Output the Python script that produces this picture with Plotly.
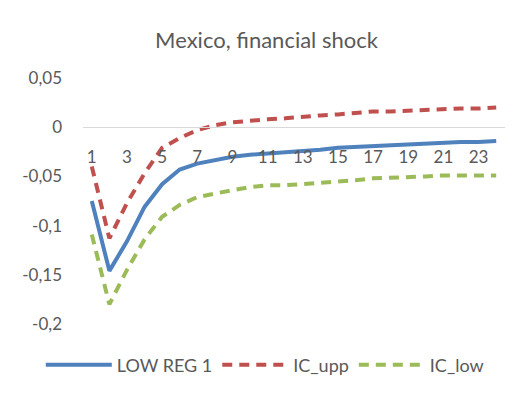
import plotly.graph_objects as go

BLUE = "#4F81BD"
RED = "#C0504D"
GREEN = "#9BBB59"
TXT = "#595959"
GRID = "#D9D9D9"

periods = list(range(1, 25))
low_reg1 = [-0.075, -0.146, -0.116, -0.081, -0.058, -0.043, -0.037, -0.033,
            -0.030, -0.028, -0.027, -0.026, -0.025, -0.023, -0.021, -0.020,
            -0.019, -0.018, -0.017, -0.016, -0.015, -0.015, -0.015, -0.014]
ic_upp = [-0.040, -0.113, -0.077, -0.047, -0.021, -0.011, -0.003, 0.002,
          0.005, 0.007, 0.008, 0.009, 0.011, 0.012, 0.013, 0.015,
          0.016, 0.016, 0.017, 0.018, 0.018, 0.019, 0.019, 0.020]
ic_low = [-0.109, -0.180, -0.145, -0.114, -0.091, -0.079, -0.071, -0.067,
          -0.064, -0.061, -0.059, -0.059, -0.058, -0.057, -0.056, -0.054,
          -0.052, -0.051, -0.051, -0.050, -0.049, -0.049, -0.049, -0.049]

x_ticks = list(range(1, 25, 2))
y_ticks = [0.05, 0, -0.05, -0.1, -0.15, -0.2]
y_labels = ["0,05", "0", "-0,05", "-0,1", "-0,15", "-0,2"]

fig = go.Figure()
fig.add_trace(go.Scatter(x=periods, y=low_reg1, name="LOW REG 1", mode="lines",
                         line=dict(color=BLUE, width=4)))
fig.add_trace(go.Scatter(x=periods, y=ic_upp, name="IC_upp", mode="lines",
                         line=dict(color=RED, width=4, dash="10px,7px")))
fig.add_trace(go.Scatter(x=periods, y=ic_low, name="IC_low", mode="lines",
                         line=dict(color=GREEN, width=4, dash="10px,7px")))

# page adds 8px body margin, so the figure is 8px smaller than the window
fig.update_layout(
    width=517, height=393,
    paper_bgcolor="white", plot_bgcolor="white",
    font=dict(family="Lato, Open Sans, sans-serif", color=TXT, size=17),
    title=dict(text="Mexico, financial shock", x=0.5, xanchor="center",
               y=1 - 32 / 393, yanchor="middle", font=dict(size=22, color=TXT)),
    margin=dict(l=75, r=20, t=70, b=77),
    showlegend=True,
    legend=dict(orientation="h", x=-0.1, xanchor="left",
                y=-0.167, yanchor="middle",
                font=dict(size=18, color=TXT), itemwidth=66),
)
fig.update_xaxes(range=[0.5, 24.5], tickvals=x_ticks, showgrid=False,
                 showline=True, linecolor=GRID, linewidth=1.3,
                 anchor="free", position=0.8, ticks="", zeroline=False,
                 ticklabelstandoff=14, tickfont=dict(size=17, color=TXT))
fig.update_yaxes(range=[-0.2, 0.05], tickvals=y_ticks, ticktext=y_labels,
                 showgrid=False, zeroline=False, showline=False, ticks="",
                 ticklabelstandoff=20, tickfont=dict(size=17, color=TXT))

fig.write_html("out.html")
